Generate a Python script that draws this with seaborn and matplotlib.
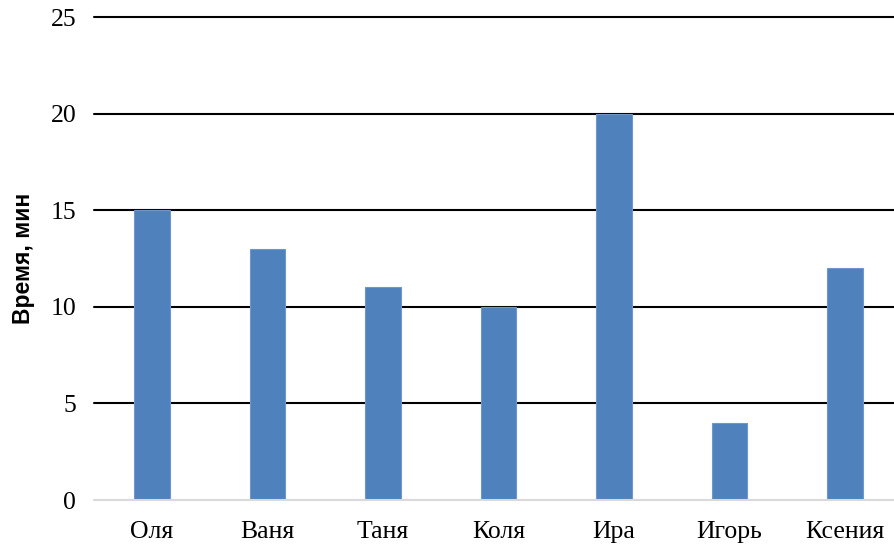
import matplotlib
matplotlib.use('Agg')
import matplotlib.pyplot as plt
import seaborn as sns
import pandas as pd

# Data
names = ['Оля', 'Ваня', 'Таня', 'Коля', 'Ира', 'Игорь', 'Ксения']
minutes = [15, 13, 11, 10, 20, 4, 12]
y_ticks = [0, 5, 10, 15, 20, 25]

df = pd.DataFrame({'name': names, 'minutes': minutes})

sns.set_style('white')

fig = plt.figure(figsize=(8.94, 5.47), dpi=100)
ax = fig.add_axes([0.1054, 0.0859, 0.9044, 0.883])

sns.barplot(data=df, x='name', y='minutes', color='#4F81BD', saturation=1,
            width=0.31, ax=ax, zorder=3, edgecolor='#6F97CC', linewidth=0.8)

ax.set_ylim(0, 25)
ax.set_yticks(y_ticks)
ax.set_xlim(-0.5, len(names) - 0.5)

for t in y_ticks[1:]:
    ax.axhline(t, color='black', lw=1.5, zorder=1, clip_on=False)
ax.axhline(0, color='#D9D9D9', lw=1.5, zorder=4, clip_on=False)

for s in ax.spines.values():
    s.set_visible(False)
ax.tick_params(axis='both', length=0, labelsize=18.5, labelcolor='black')
ax.tick_params(axis='y', pad=13)
ax.tick_params(axis='x', pad=15)
for lab in ax.get_xticklabels() + ax.get_yticklabels():
    lab.set_family('Liberation Serif')

ax.set_xlabel('')
ax.set_ylabel('Время, мин', family='Liberation Sans', fontweight='bold',
              fontsize=16.5, color='black')
ax.yaxis.set_label_coords(-0.073, 0.5)

fig.savefig('out.png', dpi=100)
